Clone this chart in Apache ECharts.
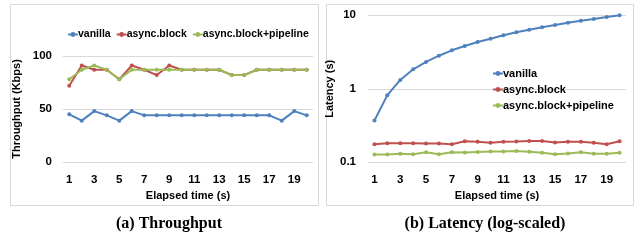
<!DOCTYPE html>
<html><head><meta charset="utf-8">
<script src="https://cdn.jsdelivr.net/npm/echarts@6/dist/echarts.min.js"></script>
<style>html,body{margin:0;padding:0;background:#fff}#c{width:637px;height:242px}</style>
</head><body><div id="c"></div>
<script>
const categories = ['1','2','3','4','5','6','7','8','9','10','11','12','13','14','15','16','17','18','19','20'];
const seriesNames = ['vanilla','async.block','async.block+pipeline'];
const tpVanilla  = [45,39,48,44,39,48,44,44,44,44,44,44,44,44,44,44,44,39,48,44];
const tpBlock    = [72,91,87,87,78,91,87,82,91,87,87,87,87,82,82,87,87,87,87,87];
const tpPipeline = [78,87,91,87,78,87,87,87,87,87,87,87,87,82,82,87,87,87,87,87];
const latVanilla  = [0.37,0.82,1.32,1.84,2.32,2.82,3.34,3.82,4.33,4.81,5.35,5.87,6.37,6.87,7.38,7.93,8.45,8.9,9.49,10.0];
const latBlock    = [0.176,0.181,0.181,0.181,0.18,0.18,0.176,0.193,0.19,0.185,0.19,0.192,0.195,0.195,0.186,0.19,0.19,0.185,0.176,0.193];
const latPipeline = [0.128,0.128,0.131,0.129,0.137,0.129,0.137,0.136,0.138,0.14,0.14,0.142,0.139,0.135,0.129,0.132,0.137,0.131,0.131,0.135];
const throughputTicks = [0,50,100];
const latencyTicks = [0.1,1,10];

const colors = ['#4F81BD','#C0504D','#9BBB59'];
const sans = 'Liberation Sans';
const axisLabel = {fontFamily:sans,fontWeight:'bold',fontSize:11.5,color:'#000'};
const nameStyle = {fontFamily:sans,fontWeight:'bold',fontSize:11,color:'#000'};
function mk(name, data, i, xi, yi){
  return {name, type:'line', data, xAxisIndex:xi, yAxisIndex:yi, symbol:'circle', symbolSize:4,
    lineStyle:{width:2,color:colors[i]}, itemStyle:{color:colors[i]}, emphasis:{disabled:true}, animation:false};
}
const chart = echarts.init(document.getElementById('c'), null, {renderer:'canvas'});
chart.setOption({
  animation:false,
  color:colors,
  grid:[{left:63,width:250,top:56,height:106},{left:368,width:258,top:15.3,height:147}],
  legend:[
    {data:seriesNames.map(n=>({name:n})), left:62, top:24, itemWidth:10, itemHeight:6, itemGap:5,
     textStyle:{fontFamily:sans,fontWeight:'bold',fontSize:10.5,color:'#000',padding:[0,0,0,-5]}, selectedMode:false},
    {data:seriesNames.map(n=>({name:n})), left:487, top:63, orient:'vertical', itemWidth:10, itemHeight:6, itemGap:5,
     textStyle:{fontFamily:sans,fontWeight:'bold',fontSize:11,color:'#000',padding:[0,0,0,-5]}, selectedMode:false}
  ],
  xAxis:[
    {type:'category',gridIndex:0,data:categories,boundaryGap:true,axisLine:{show:false},axisTick:{show:false},
     axisLabel:Object.assign({interval:1,margin:12},axisLabel),
     name:'Elapsed time (s)',nameLocation:'middle',nameGap:28,nameMoveOverlap:false,nameTextStyle:nameStyle},
    {type:'category',gridIndex:1,data:categories,boundaryGap:true,axisLine:{show:false},axisTick:{show:false},
     axisLabel:Object.assign({interval:1,margin:12},axisLabel),
     name:'Elapsed time (s)',nameLocation:'middle',nameGap:28,nameMoveOverlap:false,nameTextStyle:nameStyle}
  ],
  yAxis:[
    {type:'value',gridIndex:0,min:throughputTicks[0],max:throughputTicks[2],interval:throughputTicks[1]-throughputTicks[0],
     axisLine:{show:false},axisTick:{show:false},axisLabel:Object.assign({margin:11},axisLabel),
     splitLine:{lineStyle:{color:'#d9d9d9',width:1}},
     name:'Throughput (Kbps)',nameLocation:'middle',nameGap:41,nameRotate:90,nameMoveOverlap:false,nameTextStyle:nameStyle},
    {type:'log',gridIndex:1,min:latencyTicks[0],max:latencyTicks[2],logBase:10,
     axisLine:{show:false},axisTick:{show:false},axisLabel:Object.assign({margin:12},axisLabel),
     splitLine:{lineStyle:{color:'#d9d9d9',width:1}},
     name:'Latency (s)',nameLocation:'middle',nameGap:33,nameRotate:90,nameMoveOverlap:false,nameTextStyle:nameStyle}
  ],
  title:[
    {text:'(a) Throughput',left:164,top:211,textAlign:'center',textStyle:{fontFamily:'Liberation Serif',fontWeight:'bold',fontSize:16,color:'#000'}},
    {text:'(b) Latency (log-scaled)',left:480,top:211,textAlign:'center',textStyle:{fontFamily:'Liberation Serif',fontWeight:'bold',fontSize:16,color:'#000'}}
  ],
  graphic:[
    {type:'rect',shape:{x:10.5,y:4.5,width:308,height:201},style:{fill:null,stroke:'#d9d9d9',lineWidth:1},silent:true},
    {type:'rect',shape:{x:326.5,y:4.5,width:307,height:201},style:{fill:null,stroke:'#d9d9d9',lineWidth:1},silent:true}
  ],
  series:[
    mk(seriesNames[0],tpVanilla,0,0,0), mk(seriesNames[1],tpBlock,1,0,0), mk(seriesNames[2],tpPipeline,2,0,0),
    mk(seriesNames[0],latVanilla,0,1,1), mk(seriesNames[1],latBlock,1,1,1), mk(seriesNames[2],latPipeline,2,1,1)
  ]
});
</script></body></html>
